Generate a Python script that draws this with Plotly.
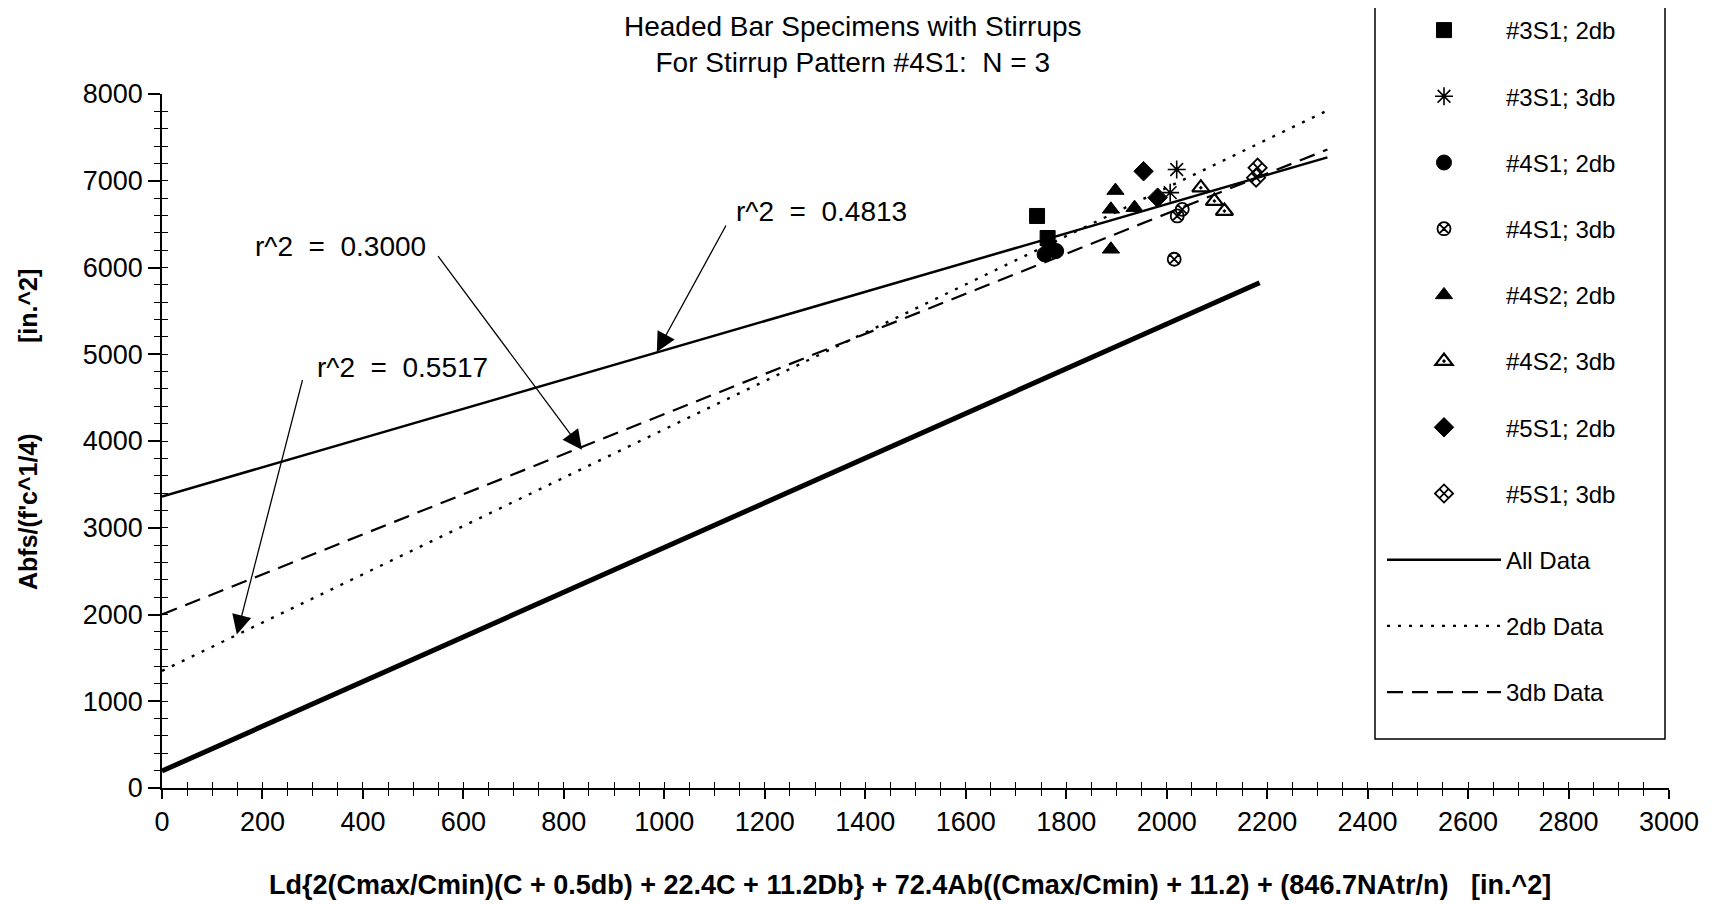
import plotly.graph_objects as go

# ---------------- data ----------------
x_3s1_2db = [1742, 1763]
y_3s1_2db = [6594, 6340]

x_3s1_3db = [2020, 2007]
y_3s1_3db = [7130, 6863]

x_4s1_2db = [1757, 1767, 1780]
y_4s1_2db = [6152, 6245, 6190]

x_4s1_3db = [2021, 2031, 2015]
y_4s1_3db = [6594, 6670, 6095]

x_4s2_2db = [1898, 1889, 1936, 1889]
y_4s2_2db = [6887, 6671, 6690, 6210]

x_4s2_3db = [2068, 2095, 2115]
y_4s2_3db = [6920, 6766, 6651]

x_5s1_2db = [1954, 1982]
y_5s1_2db = [7110, 6805]

x_5s1_3db = [2181, 2178]
y_5s1_3db = [7150, 7036]

# regression lines (end points)
x_fit = [0, 2320]
y_all = [3360, 7270]
y_2db = [1350, 7810]
y_3db = [2000, 7360]

x_thick = [0, 2185]
y_thick = [196, 5825]

x_ticks = list(range(0, 3001, 200))
y_ticks = list(range(0, 8001, 1000))

FONT = "Liberation Sans, Arial, sans-serif"

# figure geometry (pixels)
W, H = 1719, 904
ML, MR, MT, MB = 154, 58, 86, 124
PW, PH = W - ML - MR, H - MT - MB


def px_to_paper(px, py):
    return (px - ML) / PW, (H - MB - py) / PH


series = [
    ("#3S1; 2db", x_3s1_2db, y_3s1_2db, "square", 15, 1),
    ("#3S1; 3db", x_3s1_3db, y_3s1_3db, "asterisk-open", 15, 1.6),
    ("#4S1; 2db", x_4s1_2db, y_4s1_2db, "circle", 15, 1),
    ("#4S1; 3db", x_4s1_3db, y_4s1_3db, "circle-x-open", 13, 1.8),
    ("#4S2; 2db", x_4s2_2db, y_4s2_2db, "triangle-up", 15, 1),
    ("#4S2; 3db", x_4s2_3db, y_4s2_3db, "triangle-up-open-dot", 15, 2.2),
    ("#5S1; 2db", x_5s1_2db, y_5s1_2db, "diamond", 15, 1),
    ("#5S1; 3db", x_5s1_3db, y_5s1_3db, "diamond-x-open", 14, 1.8),
]

fig = go.Figure()

for i, (name, xs, ys, sym, size, lw) in enumerate(series):
    fig.add_trace(go.Scatter(
        x=xs, y=ys, mode="markers", name=name, legendgroup=f"g{i}",
        marker=dict(symbol=sym, size=size, color="black",
                    line=dict(color="black", width=lw)),
    ))

fig.add_trace(go.Scatter(x=x_thick, y=y_thick, mode="lines", showlegend=False,
                         line=dict(color="black", width=5)))
fig.add_trace(go.Scatter(x=x_fit, y=y_all, mode="lines", name="All Data", legendgroup="g8",
                         line=dict(color="black", width=2.5)))
fig.add_trace(go.Scatter(x=x_fit, y=y_2db, mode="lines", name="2db Data", legendgroup="g9",
                         line=dict(color="black", width=2.4, dash="3px,8px")))
fig.add_trace(go.Scatter(x=x_fit, y=y_3db, mode="lines", name="3db Data", legendgroup="g10",
                         line=dict(color="black", width=2.2, dash="16px,9px")))

# overlay axes carrying the inner half of the crossing ticks
fig.add_trace(go.Scatter(x=[None], y=[None], xaxis="x2", yaxis="y2", showlegend=False))

# r^2 annotations
ann_font = dict(family=FONT, size=28, color="black")
labels = [
    ("r^2  =  0.4813", 1312, 6651),
    ("r^2  =  0.3000", 356, 6241),
    ("r^2  =  0.5517", 478, 4853),
]
for txt, lx, ly in labels:
    fig.add_annotation(x=lx, y=ly, text=txt, showarrow=False, font=ann_font)

arrows = [
    (985, 5026, 70, -128),
    (836, 3900, -145, -195),
    (149, 1769, 66, -256),
]
for tx, ty, ax, ay in arrows:
    fig.add_annotation(x=tx, y=ty, ax=ax, ay=ay, text="", showarrow=True,
                       arrowhead=2, arrowsize=3.0, arrowwidth=1.3, arrowcolor="black")

# title
tx, ty = px_to_paper(845, 36)
fig.add_annotation(xref="paper", yref="paper", x=tx, y=ty, yanchor="middle",
                   text="Headed Bar Specimens with Stirrups<br>For Stirrup Pattern #4S1:  N = 3",
                   showarrow=False, align="center",
                   font=dict(family=FONT, size=28, color="black"))

# axis titles
xx, xy = px_to_paper(902, 877)
fig.add_annotation(xref="paper", yref="paper", x=xx, y=xy, yanchor="middle",
                   text="<b>Ld{2(Cmax/Cmin)(C + 0.5db) + 22.4C + 11.2Db} + 72.4Ab((Cmax/Cmin) + 11.2) + (846.7NAtr/n)   [in.^2]</b>",
                   showarrow=False, font=dict(family=FONT, size=27, color="black"))
yx, yy = px_to_paper(20, 422)
fig.add_annotation(xref="paper", yref="paper", x=yx, y=yy, xanchor="center", yanchor="middle",
                   textangle=-90,
                   text="<b>Abfs/(f'c^1/4)             [in.^2]</b>",
                   showarrow=False, font=dict(family=FONT, size=25, color="black"))

# legend frame (top edge runs off the page as in the original)
bx0, by0 = px_to_paper(1367, 731)
bx1, by1 = px_to_paper(1657, -10)
fig.add_shape(type="rect", xref="paper", yref="paper", x0=bx0, y0=by0, x1=bx1, y1=by1,
              line=dict(color="black", width=1.5), fillcolor="rgba(0,0,0,0)", layer="above")

fig.update_layout(
    width=W, height=H,
    margin=dict(l=ML, r=MR, t=MT, b=MB, autoexpand=False),
    paper_bgcolor="white", plot_bgcolor="white",
    font=dict(family=FONT, size=26, color="black"),
    showlegend=True,
    legend=dict(
        xref="container", yref="container",
        x=0.7993, xanchor="left", y=1.012, yanchor="top",
        bgcolor="rgba(0,0,0,0)", borderwidth=0,
        font=dict(family=FONT, size=24, color="black"),
        tracegroupgap=32, itemwidth=114, traceorder="grouped",
        maxheight=950,
    ),
    xaxis=dict(
        range=[0, 3000], tickmode="array", tickvals=x_ticks,
        ticks="outside", ticklen=9, tickwidth=1.5, tickcolor="black",
        minor=dict(dtick=50, ticks="outside", ticklen=6, tickwidth=1.2, tickcolor="black"),
        showline=True, linecolor="black", linewidth=1.5,
        showgrid=False, zeroline=False,
        tickfont=dict(family=FONT, size=27), ticklabelstandoff=0,
    ),
    yaxis=dict(
        range=[0, 8000], tickmode="array", tickvals=y_ticks,
        ticks="outside", ticklen=12, tickwidth=1.5, tickcolor="black",
        minor=dict(dtick=200, ticks="outside", ticklen=6, tickwidth=1.2, tickcolor="black"),
        showline=True, linecolor="black", linewidth=1.5,
        showgrid=False, zeroline=False,
        tickfont=dict(family=FONT, size=27), ticklabelstandoff=0,
    ),
    xaxis2=dict(
        overlaying="x", anchor="y", side="bottom", range=[0, 3000],
        tickmode="linear", tick0=0, dtick=50, ticks="inside", ticklen=6,
        tickwidth=1.2, tickcolor="black", showticklabels=False,
        showline=False, showgrid=False, zeroline=False,
    ),
    yaxis2=dict(
        overlaying="y", anchor="x", side="left", range=[0, 8000],
        tickmode="linear", tick0=0, dtick=200, ticks="inside", ticklen=6,
        tickwidth=1.2, tickcolor="black", showticklabels=False,
        showline=False, showgrid=False, zeroline=False,
    ),
)

fig.write_html("out.html")
